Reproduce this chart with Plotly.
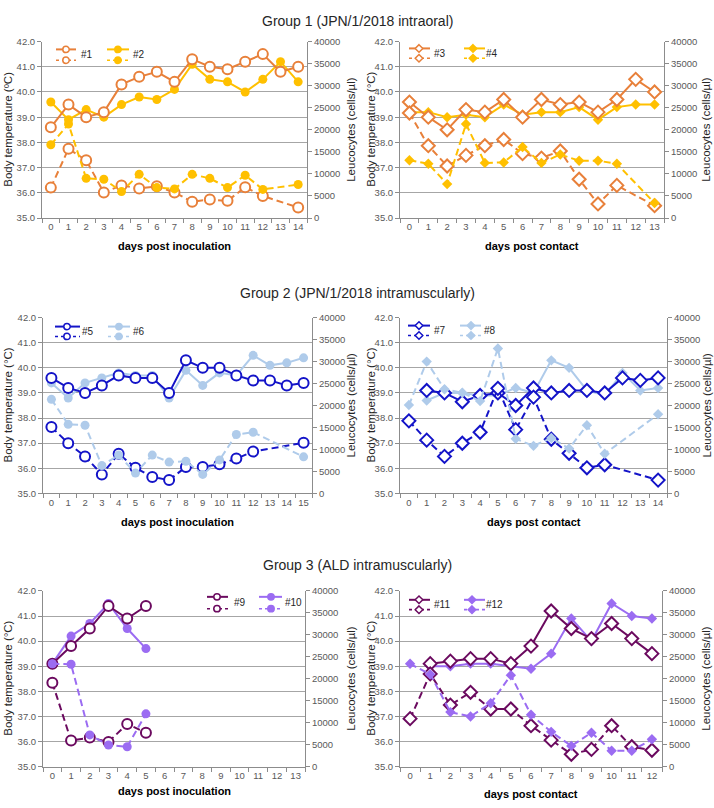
import plotly.graph_objects as go

W, H = 714, 808
FONT = "Arial, Liberation Sans, sans-serif"

# ---------------- data ----------------
# Group 1
days_p1 = [str(d) for d in range(15)]
temp_1 = [38.6, 39.5, 39.0, 39.2, 40.3, 40.6, 40.8, 40.4, 41.3, 41.0, 40.9, 41.2, 41.5, 40.8, 41.0]
temp_2 = [39.6, 38.9, 39.3, 39.0, 39.5, 39.8, 39.7, 40.1, 41.1, 40.5, 40.4, 40.0, 40.5, 41.2, 40.4]
leuk_1 = [6900, 15700, 13100, 5800, 7400, 6700, 7200, 5800, 3700, 4200, 3900, 7000, 5000, None, 2400]
leuk_2 = [16600, 21300, 9000, 8800, 6000, 9900, 6900, 6600, 9900, 9000, 6900, 9700, 6500, None, 7600]

days_p2 = [str(d) for d in range(14)]
temp_3 = [39.6, 39.0, 38.5, 39.3, 39.2, 39.7, 39.0, 39.7, 39.5, 39.6, 39.2, 39.7, 40.5, 40.0]
temp_4 = [39.2, 39.2, 39.0, 39.1, 39.0, 39.5, 39.1, 39.2, 39.2, 39.4, 38.9, 39.4, 39.5, 39.5]
leuk_3 = [23800, 16400, 11800, 14200, 16400, 17800, 14600, 13600, 15200, 8800, 3200, 7400, None, 2800]
leuk_4 = [13100, 12300, 7700, 21300, 12500, 12600, 16100, 12500, 14400, 13000, 13000, 12300, None, 3400]

# Group 2
days_p3 = [str(d) for d in range(16)]
temp_5 = [39.6, 39.2, 39.0, 39.3, 39.7, 39.6, 39.6, 39.0, 40.3, 40.0, 40.0, 39.7, 39.5, 39.5, 39.3, 39.4]
temp_6 = [39.4, 38.8, 39.4, 39.6, 39.8, 39.7, 39.7, 38.8, 39.9, 39.3, 39.8, 39.7, 40.5, 40.1, 40.2, 40.4]
leuk_5 = [15100, 11400, 8400, 4300, 9000, 5800, 3700, 3000, 6000, 6000, 6600, 7900, 9500, None, None, 11500]
leuk_6 = [21400, 15700, 15500, 6300, 8700, 4600, 8700, 7100, 7300, 4300, 7600, 13400, 13900, None, None, 8300]

days_p4 = [str(d) for d in range(15)]
temp_7 = [None, 39.1, 39.0, 38.65, 38.9, 39.0, 38.5, 39.2, 39.0, 39.1, 39.1, 39.0, 39.6, 39.5, 39.6]
temp_8 = [None, 38.7, 39.0, 39.0, 38.9, 38.9, 39.2, 39.0, 40.3, 40.0, 39.1, 38.9, 39.8, 39.1, 39.2]
leuk_7 = [16500, 12100, 8400, 11400, 13900, 23900, 14500, 21900, 12300, 9100, 5800, 6500, None, None, 3000]
leuk_8 = [20100, 30000, 23700, 22900, 21000, 33000, 12400, 10800, 12600, 10200, 15500, 9000, None, None, 18000]

# Group 3
days_p5 = [str(d) for d in range(14)]
temp_9 = [39.1, 39.8, 40.5, 41.4, 40.9, 41.4]
temp_10 = [39.1, 40.2, 40.7, 41.5, 40.5, 39.7]
leuk_9 = [19100, 5900, 6600, 5600, 9700, 7700]
leuk_10 = [23400, 23300, 7200, 4900, 4500, 12000]

days_p6 = [str(d) for d in range(13)]
temp_11 = [None, 39.1, 39.2, 39.3, 39.3, 39.1, 39.8, 41.2, 40.5, 40.1, 40.7, 40.1, 39.5]
temp_12 = [None, 39.0, 39.0, 39.1, 39.1, 39.0, 38.9, 39.5, 40.9, 40.0, 41.5, 41.0, 40.9]
leuk_11 = [10900, 21100, 14000, 16900, 13100, 13100, 9300, 6000, 2800, 3900, 9300, 4500, 3700]
leuk_12 = [23400, 21000, 12400, 11400, 14400, 20800, 11800, 7900, 4700, 7700, 3600, 3600, 6200]

temp_ticks = [35, 36, 37, 38, 39, 40, 41, 42]
leuk_ticks = [0, 5000, 10000, 15000, 20000, 25000, 30000, 35000, 40000]

group_titles = ["Group 1 (JPN/1/2018 intraoral)",
                "Group 2 (JPN/1/2018 intramuscularly)",
                "Group 3 (ALD intramuscularly)"]

ORANGE = "#E8803A"
GOLD = "#FFC000"
DBLUE = "#1414C8"
LBLUE = "#AFCBEA"
DPURP = "#6B0A5F"
MPURP = "#9B6CF2"

GRID = "#A6A6A6"
AXC = "#8C8C8C"
TICKC = "#595959"

panels = [
    dict(days=days_p1, a=("#1", temp_1, leuk_1, ORANGE, "circle", True),
         b=("#2", temp_2, leuk_2, GOLD, "circle", False),
         box=(42, 36, 307, 215), xt="days post inoculation", xt_y=243,
         lg=dict(c1=(14, 34, 24, 37), c2=(65, 87, 76, 89), r=(8, 19)),
         yl="Body temperature (ºC)", ylx=8, yrx=351),
    dict(days=days_p2, a=("#3", temp_3, leuk_3, ORANGE, "diamond", True),
         b=("#4", temp_4, leuk_4, GOLD, "diamond", False),
         box=(400, 36, 664, 215), xt="days post contact", xt_y=243,
         lg=dict(c1=(9, 30, 19, 32), c2=(64, 85, 73, 84), r=(7, 17)),
         yl="Body temperature (°C)", ylx=371, yrx=706),
    dict(days=days_p3, a=("#5", temp_5, leuk_5, DBLUE, "circle", True),
         b=("#6", temp_6, leuk_6, LBLUE, "circle", False),
         box=(43, 316, 312, 494), xt="days post inoculation", xt_y=523,
         lg=dict(c1=(12, 37, 24, 37), c2=(65, 87, 76, 88), r=(9, 19)),
         yl="Body temperature (°C)", ylx=8, yrx=351),
    dict(days=days_p4, a=("#7", temp_7, leuk_7, DBLUE, "diamond", True),
         b=("#8", temp_8, leuk_8, LBLUE, "diamond", False),
         box=(400, 316, 667, 494), xt="days post contact", xt_y=523,
         lg=dict(c1=(8, 30, 19, 32), c2=(60, 81, 71, 82), r=(8, 18)),
         yl="Body temperature (°C)", ylx=371, yrx=707),
    dict(days=days_p5, a=("#9", temp_9, leuk_9, DPURP, "circle", True),
         b=("#10", temp_10, leuk_10, MPURP, "circle", False),
         box=(43, 593, 305, 771), xt="days post inoculation", xt_y=796,
         lg=dict(c1=(164, 185, 174, 189), c2=(216, 239, 228, 240), r=(6, 18)),
         yl="Body temperature (°C)", ylx=8, yrx=351),
    dict(days=days_p6, a=("#11", temp_11, leuk_11, DPURP, "diamond", True),
         b=("#12", temp_12, leuk_12, MPURP, "diamond", False),
         box=(400, 593, 662, 771), xt="days post contact", xt_y=799,
         lg=dict(c1=(9, 30, 19, 32), c2=(64, 85, 72, 84), r=(9, 19)),
         yl="Body temperature (°C)", ylx=371, yrx=706),
]


def px(x):
    return x / W


def py(y):
    return 1 - y / H


fig = go.Figure()
layout = dict(width=W, height=H, margin=dict(l=0, r=0, t=0, b=0),
              paper_bgcolor="white", plot_bgcolor="white", showlegend=False,
              font=dict(family=FONT, size=10, color=TICKC))
annotations = []
shapes = []


def marker_style(color, symbol, hollow, size):
    return dict(symbol=symbol, size=size,
                color="white" if hollow else color,
                line=dict(color=color, width=2 if hollow else 0))


for i, p in enumerate(panels, start=1):
    xa = "x" if i == 1 else f"x{i}"
    yl_i = 2 * i - 1
    yr_i = 2 * i
    ya = "y" if yl_i == 1 else f"y{yl_i}"
    yb = f"y{yr_i}"
    x0, y0, x1, y1 = p["box"]
    n = len(p["days"])

    layout["xaxis" if i == 1 else f"xaxis{i}"] = dict(
        domain=[px(x0), px(x1)], anchor=ya, type="category",
        categoryorder="array", categoryarray=p["days"], range=[-0.5, n - 0.5],
        showline=True, linecolor=AXC, linewidth=1, ticks="outside",
        tickson="boundaries", ticklen=4, tickcolor=AXC, showgrid=False,
        tickangle=0, tickfont=dict(size=9.5, color=TICKC), fixedrange=True)
    layout["yaxis" if yl_i == 1 else f"yaxis{yl_i}"] = dict(
        domain=[py(y1), py(y0)], anchor=xa, range=[35, 42],
        tickvals=temp_ticks, tickformat=".1f", showgrid=True,
        gridcolor=GRID, gridwidth=1, zeroline=False, showline=True,
        linecolor=AXC, ticks="outside", ticklen=4, tickcolor=AXC,
        tickfont=dict(size=9.5, color=TICKC))
    layout[f"yaxis{yr_i}"] = dict(
        overlaying=ya, anchor=xa, side="right", range=[0, 40000],
        tickvals=leuk_ticks, tickformat="d", showgrid=False, zeroline=False,
        showline=True, linecolor=AXC, ticks="outside", ticklen=4,
        tickcolor=AXC, tickfont=dict(size=9.5, color=TICKC))

    for lbl, temp, leuk, color, sym, hollow in (p["a"], p["b"]):
        ms = 10 if hollow else (9 if sym == "circle" else 8)
        fig.add_trace(go.Scatter(
            x=p["days"][:len(leuk)], y=leuk, xaxis=xa, yaxis=yb,
            mode="lines+markers", connectgaps=True, name=lbl + " leucocytes",
            line=dict(color=color, width=2, dash="7px,4px"),
            marker=marker_style(color, sym, hollow, ms)))
    for lbl, temp, leuk, color, sym, hollow in (p["b"], p["a"]):
        ms = 10 if hollow else (9 if sym == "circle" else 8)
        fig.add_trace(go.Scatter(
            x=p["days"][:len(temp)], y=temp, xaxis=xa, yaxis=ya,
            mode="lines+markers", connectgaps=False, name=lbl + " temperature",
            line=dict(color=color, width=2),
            marker=marker_style(color, sym, hollow, ms)))

    cy = (y0 + y1) / 2
    annotations.append(dict(x=px(p["ylx"]), y=py(cy), xref="paper", yref="paper",
                            text=p["yl"], textangle=-90, showarrow=False,
                            xanchor="center", yanchor="middle",
                            font=dict(size=11.5, color="#262626")))
    annotations.append(dict(x=px(p["yrx"]), y=py(cy), xref="paper", yref="paper",
                            text="Leucocytes (cells/µl)", textangle=-90, showarrow=False,
                            xanchor="center", yanchor="middle",
                            font=dict(size=11.5, color="#262626")))
    annotations.append(dict(x=px((x0 + x1) / 2), y=py(p["xt_y"]), xref="paper", yref="paper",
                            text="<b>" + p["xt"] + "</b>", showarrow=False,
                            xanchor="center", yanchor="middle",
                            font=dict(size=11, color="#000000")))

    lg = p["lg"]
    for col, s in ((lg["c1"], p["a"]), (lg["c2"], p["b"])):
        lbl, _, _, color, sym, hollow = s
        lx0, lx1, mx, tx = col
        for r_i, r in enumerate(lg["r"]):
            yy = y0 + r
            shapes.append(dict(type="line", xref="paper", yref="paper",
                               x0=px(x0 + lx0), x1=px(x0 + lx1), y0=py(yy), y1=py(yy),
                               line=dict(color=color, width=2 if r_i == 0 else 1.6,
                                         dash="solid" if r_i == 0 else "dot")))
            cx = x0 + mx
            rr = 3.2
            fill = "white" if hollow else color
            if sym == "circle":
                shapes.append(dict(type="circle", xref="paper", yref="paper",
                                   x0=px(cx - rr), x1=px(cx + rr), y0=py(yy - rr), y1=py(yy + rr),
                                   fillcolor=fill, line=dict(color=color, width=1.5)))
            else:
                rd = 3.8
                path = (f"M{px(cx)},{py(yy - rd)} L{px(cx + rd)},{py(yy)} "
                        f"L{px(cx)},{py(yy + rd)} L{px(cx - rd)},{py(yy)} Z")
                shapes.append(dict(type="path", xref="paper", yref="paper", path=path,
                                   fillcolor=fill, line=dict(color=color, width=1.5)))
        annotations.append(dict(x=px(x0 + tx), y=py(y0 + (lg["r"][0] + lg["r"][1]) / 2),
                                xref="paper", yref="paper", text=lbl, showarrow=False,
                                xanchor="left", yanchor="middle",
                                font=dict(size=10, color="#262626")))

for t, yy in zip(group_titles, (15, 291, 567)):
    annotations.append(dict(x=px(357), y=py(yy), xref="paper", yref="paper",
                            text=t, showarrow=False, xanchor="center", yanchor="middle",
                            font=dict(size=14, color="#262626")))

layout["annotations"] = annotations
layout["shapes"] = shapes
fig.update_layout(**layout)
# remove the browser's default 8px body margin so the figure fills the window exactly
fig.write_html("out.html", config={"displayModeBar": False},
               post_script="document.body.style.margin='0';document.body.style.overflow='hidden';")
